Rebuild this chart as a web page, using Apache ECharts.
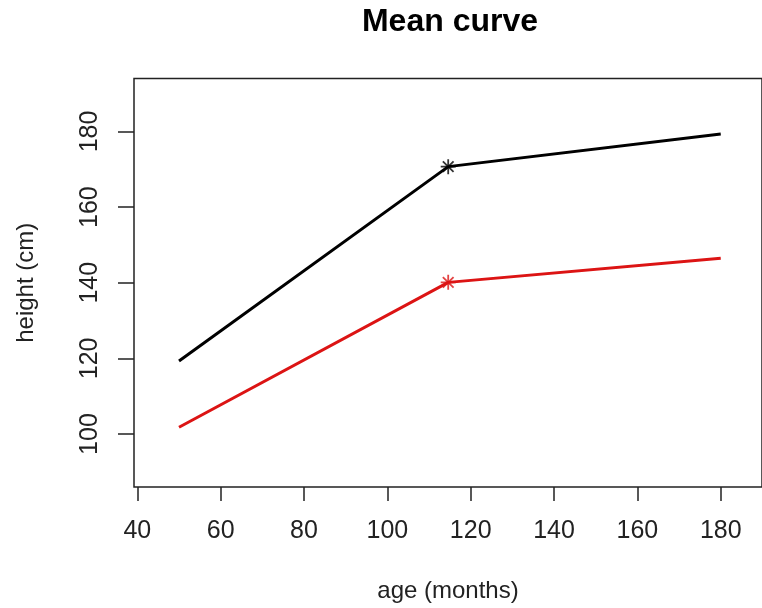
<!DOCTYPE html>
<html>
<head>
<meta charset="utf-8">
<script src="https://cdn.jsdelivr.net/npm/echarts@6/dist/echarts.min.js"></script>
<style>html,body{margin:0;padding:0;background:#fff}#c{width:762px;height:608px}</style>
</head>
<body>
<div id="c"></div>
<script>
const ages = [50, 114.6, 180];
const heightBlack = [119.3, 170.7, 179.3];
const heightRed = [101.8, 140.1, 146.5];
const xTicks = [40, 60, 80, 100, 120, 140, 160, 180];
const yTicks = [100, 120, 140, 160, 180];
const markIndex = 1;

const FONT = "'Liberation Sans', Arial, sans-serif";
const asterisk = 'path://M0,7L14,7M7,0L7,14M2,2L12,12M12,2L2,12';

const chart = echarts.init(document.getElementById('c'), null, {renderer: 'canvas'});
chart.setOption({
  animation: false,
  backgroundColor: '#fff',
  graphic: [{
    type: 'text', x: 450, y: 6,
    style: {text: 'Mean curve', textAlign: 'center', fontFamily: FONT, fontWeight: 'bold', fontSize: 32, fill: '#000'}
  }],
  grid: {
    show: true, left: 134, top: 78.5, width: 630, height: 410.5,
    borderColor: '#222', borderWidth: 1.5, containLabel: false
  },
  xAxis: {
    type: 'value', min: 39.2, max: 189.9,
    name: 'age (months)', nameLocation: 'middle', nameGap: 92,
    nameTextStyle: {fontFamily: FONT, fontSize: 24, color: '#222'},
    axisLine: {show: false},
    splitLine: {show: false},
    axisTick: {show: true, inside: false, length: 14, customValues: xTicks, lineStyle: {color: '#222', width: 1.5}},
    axisLabel: {customValues: xTicks, margin: 32, fontFamily: FONT, fontSize: 25, color: '#222'}
  },
  yAxis: {
    type: 'value', min: 86, max: 194,
    name: 'height (cm)', nameLocation: 'middle', nameGap: 96,
    nameTextStyle: {fontFamily: FONT, fontSize: 24, color: '#222'},
    axisLine: {show: false},
    splitLine: {show: false},
    axisTick: {show: true, inside: false, length: 16, customValues: yTicks, lineStyle: {color: '#222', width: 1.5}},
    axisLabel: {customValues: yTicks, rotate: 90, margin: 31, fontFamily: FONT, fontSize: 25, color: '#222'}
  },
  series: [
    {
      type: 'line', data: ages.map((a, i) => [a, heightBlack[i]]),
      showSymbol: false, symbol: 'none',
      lineStyle: {color: '#000', width: 3}, z: 3
    },
    {
      type: 'line', data: ages.map((a, i) => [a, heightRed[i]]),
      showSymbol: false, symbol: 'none',
      lineStyle: {color: '#dc1414', width: 3}, z: 3
    },
    {
      type: 'scatter', data: [[ages[markIndex], heightBlack[markIndex]]],
      symbol: asterisk, symbolSize: 15,
      itemStyle: {color: 'rgba(0,0,0,0)', borderColor: '#000', borderWidth: 1.8}, z: 4
    },
    {
      type: 'scatter', data: [[ages[markIndex], heightRed[markIndex]]],
      symbol: asterisk, symbolSize: 15,
      itemStyle: {color: 'rgba(0,0,0,0)', borderColor: '#dc1414', borderWidth: 1.8}, z: 4
    }
  ]
});
</script>
</body>
</html>
